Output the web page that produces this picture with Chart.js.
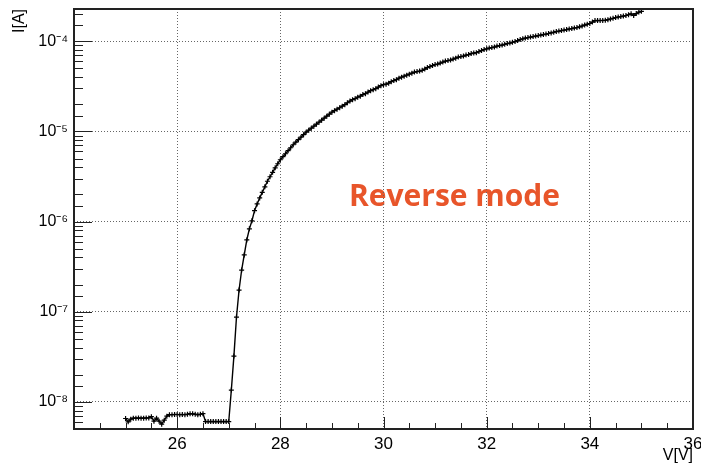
<!DOCTYPE html>
<html lang="en">
<head>
<meta charset="UTF-8">
<title>Reverse mode I-V</title>
<style>
  html, body { margin: 0; padding: 0; background: #fff; }
  #chart { display: block; }
</style>
</head>
<body>
<canvas id="chart" width="701" height="466"></canvas>
<script src="https://cdn.jsdelivr.net/npm/chart.js@4.4.1/dist/chart.umd.min.js"></script>
<script>
// bias voltage sweep [V]
var volts = [
  25.00, 25.05, 25.10, 25.15, 25.20, 25.25, 25.30, 25.35, 25.40, 25.45,
  25.50, 25.55, 25.60, 25.65, 25.70, 25.75, 25.80, 25.85, 25.90, 25.95,
  26.00, 26.05, 26.10, 26.15, 26.20, 26.25, 26.30, 26.35, 26.40, 26.45,
  26.50, 26.55, 26.60, 26.65, 26.70, 26.75, 26.80, 26.85, 26.90, 26.95,
  27.00, 27.05, 27.10, 27.15, 27.20, 27.25, 27.30, 27.35, 27.40, 27.45,
  27.50, 27.55, 27.60, 27.65, 27.70, 27.75, 27.80, 27.85, 27.90, 27.95,
  28.00, 28.05, 28.10, 28.15, 28.20, 28.25, 28.30, 28.35, 28.40, 28.45,
  28.50, 28.55, 28.60, 28.65, 28.70, 28.75, 28.80, 28.85, 28.90, 28.95,
  29.00, 29.05, 29.10, 29.15, 29.20, 29.25, 29.30, 29.35, 29.40, 29.45,
  29.50, 29.55, 29.60, 29.65, 29.70, 29.75, 29.80, 29.85, 29.90, 29.95,
  30.00, 30.05, 30.10, 30.15, 30.20, 30.25, 30.30, 30.35, 30.40, 30.45,
  30.50, 30.55, 30.60, 30.65, 30.70, 30.75, 30.80, 30.85, 30.90, 30.95,
  31.00, 31.05, 31.10, 31.15, 31.20, 31.25, 31.30, 31.35, 31.40, 31.45,
  31.50, 31.55, 31.60, 31.65, 31.70, 31.75, 31.80, 31.85, 31.90, 31.95,
  32.00, 32.05, 32.10, 32.15, 32.20, 32.25, 32.30, 32.35, 32.40, 32.45,
  32.50, 32.55, 32.60, 32.65, 32.70, 32.75, 32.80, 32.85, 32.90, 32.95,
  33.00, 33.05, 33.10, 33.15, 33.20, 33.25, 33.30, 33.35, 33.40, 33.45,
  33.50, 33.55, 33.60, 33.65, 33.70, 33.75, 33.80, 33.85, 33.90, 33.95,
  34.00, 34.05, 34.10, 34.15, 34.20, 34.25, 34.30, 34.35, 34.40, 34.45,
  34.50, 34.55, 34.60, 34.65, 34.70, 34.75, 34.80, 34.85, 34.90, 34.95,
  35.00
];

// measured current [A]
var current = [
  6.54e-9, 6.00e-9, 6.43e-9, 6.59e-9, 6.59e-9, 6.62e-9, 6.59e-9, 6.59e-9, 6.62e-9, 6.64e-9,
  6.85e-9, 6.10e-9, 6.59e-9, 6.10e-9, 5.65e-9, 6.26e-9, 6.93e-9, 7.21e-9, 7.21e-9, 7.24e-9,
  7.24e-9, 7.21e-9, 7.24e-9, 7.21e-9, 7.29e-9, 7.40e-9, 7.36e-9, 7.29e-9, 7.21e-9, 7.29e-9,
  7.40e-9, 6.05e-9, 6.05e-9, 6.05e-9, 6.05e-9, 6.05e-9, 6.05e-9, 6.05e-9, 6.05e-9, 6.05e-9,
  6.05e-9, 1.35e-8, 3.22e-8, 8.73e-8, 1.74e-7, 2.90e-7, 4.27e-7, 6.26e-7, 8.30e-7, 1.02e-6,
  1.32e-6, 1.57e-6, 1.83e-6, 2.11e-6, 2.43e-6, 2.80e-6, 3.14e-6, 3.52e-6, 3.95e-6, 4.38e-6,
  4.85e-6, 5.24e-6, 5.65e-6, 6.11e-6, 6.59e-6, 7.11e-6, 7.59e-6, 8.09e-6, 8.63e-6, 9.19e-6,
  9.80e-6, 1.031e-5, 1.086e-5, 1.143e-5, 1.202e-5, 1.265e-5, 1.331e-5, 1.403e-5, 1.476e-5, 1.552e-5,
  1.633e-5, 1.698e-5, 1.766e-5, 1.830e-5, 1.905e-5, 1.980e-5, 2.080e-5, 2.170e-5, 2.250e-5, 2.310e-5,
  2.40e-5, 2.46e-5, 2.56e-5, 2.62e-5, 2.73e-5, 2.83e-5, 2.90e-5, 2.98e-5, 3.10e-5, 3.22e-5,
  3.30e-5, 3.34e-5, 3.43e-5, 3.56e-5, 3.66e-5, 3.75e-5, 3.90e-5, 4.00e-5, 4.10e-5, 4.21e-5,
  4.32e-5, 4.43e-5, 4.55e-5, 4.61e-5, 4.67e-5, 4.76e-5, 4.91e-5, 5.11e-5, 5.24e-5, 5.37e-5,
  5.51e-5, 5.58e-5, 5.73e-5, 5.87e-5, 6.03e-5, 6.11e-5, 6.18e-5, 6.34e-5, 6.50e-5, 6.67e-5,
  6.76e-5, 6.85e-5, 7.03e-5, 7.11e-5, 7.30e-5, 7.40e-5, 7.48e-5, 7.69e-5, 7.89e-5, 8.09e-5,
  8.24e-5, 8.40e-5, 8.51e-5, 8.63e-5, 8.85e-5, 8.96e-5, 9.08e-5, 9.27e-5, 9.42e-5, 9.55e-5,
  9.75e-5, 9.92e-5, 1.018e-4, 1.044e-4, 1.064e-4, 1.086e-4, 1.099e-4, 1.114e-4, 1.127e-4, 1.143e-4,
  1.156e-4, 1.172e-4, 1.186e-4, 1.202e-4, 1.219e-4, 1.239e-4, 1.259e-4, 1.282e-4, 1.297e-4, 1.315e-4,
  1.330e-4, 1.349e-4, 1.368e-4, 1.384e-4, 1.403e-4, 1.419e-4, 1.445e-4, 1.476e-4, 1.514e-4, 1.545e-4,
  1.574e-4, 1.633e-4, 1.698e-4, 1.698e-4, 1.700e-4, 1.700e-4, 1.710e-4, 1.734e-4, 1.766e-4, 1.795e-4,
  1.832e-4, 1.858e-4, 1.879e-4, 1.905e-4, 1.930e-4, 1.968e-4, 2.014e-4, 1.930e-4, 2.030e-4, 2.110e-4,
  2.150e-4
];

// labelled axis values
var xLabels = [26, 28, 30, 32, 34, 36];
var yDecades = [1e-8, 1e-7, 1e-6, 1e-5, 1e-4];
var yDecadeLabels = ['10\u207B\u2078', '10\u207B\u2077', '10\u207B\u2076', '10\u207B\u2075', '10\u207B\u2074'];

var noteText = 'Reverse mode';
var noteV = 29.33;
var noteI = 1.49e-6;

var fontFamily = "'Liberation Sans', Arial, Helvetica, sans-serif";
var gridColor = '#666';
var frameColor = '#222';

function decadeIndex(v) {
    for (var i = 0; i < yDecades.length; i++) {
        if (Math.abs(v / yDecades[i] - 1) < 1e-6) return i;
    }
    return -1;
}

function isDecade(v) {
    return Math.abs(Math.log10(v) - Math.round(Math.log10(v))) < 1e-6;
}

// ROOT-like frame: ticks pointing inwards, closed box, text label
var rootFrame = {
    id: 'rootFrame',
    beforeDraw: function(chart) {
        var ctx = chart.ctx;
        var x = chart.scales.x.getPixelForValue(noteV);
        var y = chart.scales.y.getPixelForValue(noteI);
        ctx.save();
        ctx.fillStyle = '#e8552a';
        ctx.font = "bold 30px 'Open Sans', Lato, sans-serif";
        ctx.textAlign = 'left';
        ctx.textBaseline = 'alphabetic';
        ctx.fillText(noteText, x, y);
        ctx.restore();
    },
    afterDraw: function(chart) {
        var ctx = chart.ctx;
        var area = chart.chartArea;
        var xs = chart.scales.x;
        var ys = chart.scales.y;
        ctx.save();
        ctx.strokeStyle = frameColor;
        ctx.lineWidth = 1;
        ctx.beginPath();
        xs.ticks.forEach(function(t) {
            if (t.value <= xs.min || t.value >= xs.max) return;
            var px = Math.round(xs.getPixelForValue(t.value)) + 0.5;
            var len = (t.value % 2 === 0) ? 12 : 6;
            ctx.moveTo(px, area.bottom);
            ctx.lineTo(px, area.bottom - len);
        });
        ys.ticks.forEach(function(t) {
            if (t.value <= ys.min || t.value >= ys.max) return;
            var py = Math.round(ys.getPixelForValue(t.value)) + 0.5;
            var len = isDecade(t.value) ? 18 : 9;
            ctx.moveTo(area.left, py);
            ctx.lineTo(area.left + len, py);
        });
        ctx.stroke();
        ctx.lineWidth = 2;
        ctx.strokeRect(area.left, area.top, area.right - area.left, area.bottom - area.top);
        ctx.restore();
    }
};

var points = volts.map(function(v, i) { return {x: v, y: current[i]}; });

var ctx = document.getElementById('chart').getContext('2d');
var chart = new Chart(ctx, {
    type: 'line',
    data: {
        datasets: [{
            label: 'I(V)',
            data: points,
            borderColor: '#000',
            borderWidth: 1.4,
            pointStyle: 'cross',
            pointRadius: 2.5,
            pointBorderWidth: 1.2,
            pointBorderColor: '#000',
            pointBackgroundColor: '#000',
            tension: 0,
            fill: false
        }]
    },
    options: {
        responsive: false,
        animation: false,
        events: [],
        layout: { padding: { left: 0, right: 8, top: 9, bottom: 0 } },
        plugins: {
            legend: { display: false },
            tooltip: { enabled: false }
        },
        scales: {
            x: {
                type: 'linear',
                min: 24,
                max: 36,
                ticks: {
                    stepSize: 0.5,
                    autoSkip: false,
                    maxRotation: 0,
                    padding: 5,
                    color: '#000',
                    font: { family: fontFamily, size: 17 },
                    callback: function(v) {
                        return xLabels.indexOf(v) >= 0 ? String(v) : '';
                    }
                },
                grid: {
                    drawTicks: false,
                    lineWidth: 1,
                    color: function(c) {
                        if (!c.tick) return 'rgba(0,0,0,0)';
                        var v = c.tick.value;
                        return (xLabels.indexOf(v) >= 0 && v < 36) ? gridColor : 'rgba(0,0,0,0)';
                    }
                },
                border: { display: false, dash: [1, 2] },
                title: {
                    display: true,
                    text: 'V[V]',
                    align: 'end',
                    color: '#000',
                    font: { family: fontFamily, size: 16 },
                    padding: { top: 0, bottom: 1 }
                },
                afterFit: function(scale) {
                    scale.height = 37;
                    scale.paddingLeft = 0;
                    scale.paddingRight = 0;
                }
            },
            y: {
                type: 'logarithmic',
                min: 5e-9,
                max: 2.28e-4,
                ticks: {
                    autoSkip: false,
                    padding: 6,
                    color: '#000',
                    font: { family: fontFamily, size: 16 },
                    callback: function(v) {
                        var i = decadeIndex(v);
                        return i >= 0 ? yDecadeLabels[i] : '';
                    }
                },
                grid: {
                    drawTicks: false,
                    lineWidth: 1,
                    color: function(c) {
                        if (!c.tick) return 'rgba(0,0,0,0)';
                        return decadeIndex(c.tick.value) >= 0 ? gridColor : 'rgba(0,0,0,0)';
                    }
                },
                border: { display: false, dash: [1, 2] },
                title: {
                    display: true,
                    text: 'I[A]',
                    align: 'end',
                    color: '#000',
                    font: { family: fontFamily, size: 16 },
                    padding: { top: 10, bottom: 0 }
                },
                afterFit: function(scale) {
                    scale.width = 74;
                    scale.paddingTop = 0;
                    scale.paddingBottom = 0;
                }
            }
        }
    },
    plugins: [rootFrame]
});
</script>
</body>
</html>
